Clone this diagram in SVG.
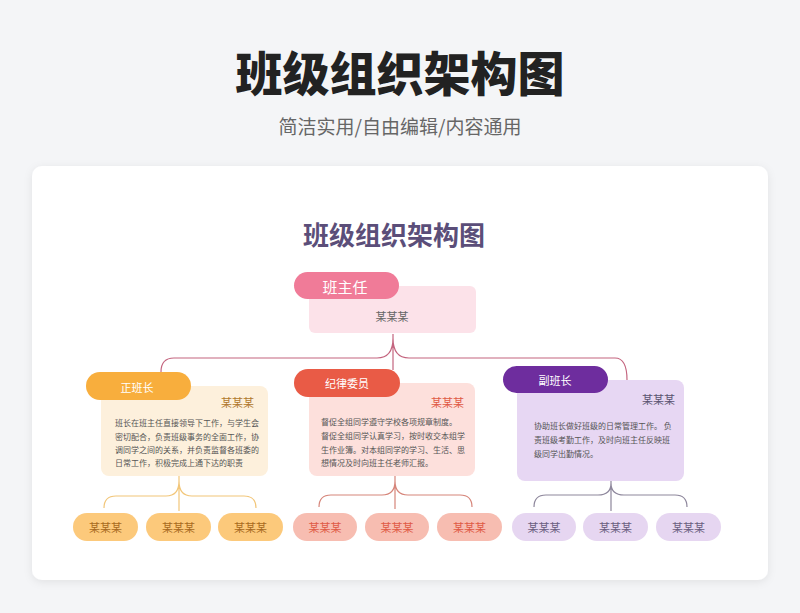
<svg xmlns="http://www.w3.org/2000/svg" width="800" height="613" viewBox="0 0 800 613">
<defs>
<filter id="sh" x="-10%" y="-10%" width="120%" height="120%">
<feDropShadow dx="0" dy="2" stdDeviation="4" flood-color="#000" flood-opacity="0.08"/>
</filter>
<style>
text{font-family:"Noto Sans CJK SC","Noto Sans",sans-serif;dominant-baseline:central}
.pill{font-size:11px;fill:#fff;text-anchor:middle}
.name{font-size:11px;text-anchor:end}
.body{font-size:8px;fill:#555}
.sub{font-size:11px;text-anchor:middle}
.ln{fill:none;stroke-width:1.2}
</style>
</defs>
<rect width="800" height="613" fill="#f4f5f7"/>
<text x="400" y="70" font-size="47" font-weight="900" fill="#222" text-anchor="middle">班级组织架构图</text>
<text x="400" y="125" font-size="19" fill="#666" text-anchor="middle">简洁实用/自由编辑/内容通用</text>
<rect x="32" y="166" width="736" height="414" rx="10" fill="#fff" filter="url(#sh)"/>
<text x="394" y="233" font-size="26" font-weight="700" fill="#5b4e79" text-anchor="middle">班级组织架构图</text>

<g id="connectors">
<path class="ln" stroke="#c4657f" d="M393,334 V370 M393,338 Q393,358 377,358 H174 Q161,358 161,372 M393,338 Q393,358 409,358 H615 Q627,358 627,380"/>
<path class="ln" stroke="#f2c679" d="M179,476 V511 M179,481 Q179,496 166,496 H116 Q104,496 104,508 M179,481 Q179,496 192,496 H244 Q256,496 256,508"/>
<path class="ln" stroke="#d6857a" d="M395,476 V509 M395,481 Q395,495 382,495 H331 Q319,495 319,507 M395,481 Q395,495 408,495 H460 Q472,495 472,507"/>
<path class="ln" stroke="#8e879c" d="M611,481 V511 M611,483 Q611,495 598,495 H546 Q534,495 534,507 M611,483 Q611,495 624,495 H675 Q687,495 687,507"/>
</g>

<g id="head">
<rect x="309" y="286" width="167" height="47" rx="6" fill="#fce2e9"/>
<rect x="294" y="272" width="105" height="27" rx="13.5" fill="#f07b98"/>
<text x="345" y="286" font-size="15" fill="#fff" text-anchor="middle">班主任</text>
<text x="392" y="316" font-size="11" fill="#666" text-anchor="middle">某某某</text>
</g>

<g id="monitor">
<rect x="101" y="386" width="167" height="90" rx="8" fill="#fdf0dc"/>
<rect x="86" y="372" width="105" height="28" rx="14" fill="#f8ae3d"/>
<text class="pill" x="137" y="387">正班长</text>
<text class="name" x="254" y="402" fill="#b0782c">某某某</text>
<text class="body" x="115" y="422">班长在班主任直接领导下工作，与学生会</text>
<text class="body" x="115" y="436">密切配合，负责班级事务的全面工作，协</text>
<text class="body" x="115" y="449">调同学之间的关系，并负责监督各班委的</text>
<text class="body" x="115" y="462">日常工作，积极完成上通下达的职责</text>
</g>

<g id="discipline">
<rect x="309" y="383" width="166" height="93" rx="8" fill="#fde0dc"/>
<rect x="294" y="369" width="106" height="28" rx="14" fill="#e95b46"/>
<text class="pill" x="347" y="383">纪律委员</text>
<text class="name" x="464" y="402" fill="#e05a45">某某某</text>
<text class="body" x="321" y="421">督促全组同学遵守学校各项规章制度。</text>
<text class="body" x="321" y="435">督促全组同学认真学习，按时收交本组学</text>
<text class="body" x="321" y="449">生作业簿。对本组同学的学习、生活、思</text>
<text class="body" x="321" y="462">想情况及时向班主任老师汇报。</text>
</g>

<g id="vice">
<rect x="517" y="380" width="167" height="101" rx="8" fill="#e7d7f3"/>
<rect x="503" y="366" width="105" height="27" rx="13.5" fill="#6e2d9e"/>
<text class="pill" x="555" y="380">副班长</text>
<text class="name" x="675" y="399" fill="#5a5470">某某某</text>
<text class="body" x="534" y="425">协助班长做好班级的日常管理工作。 负</text>
<text class="body" x="534" y="439">责班级考勤工作，及时向班主任反映班</text>
<text class="body" x="534" y="453">级同学出勤情况。</text>
</g>

<g id="o1"><rect x="73" y="513" width="65" height="28" rx="14" fill="#fcc97b"/><text class="sub" x="105.5" y="527" fill="#a86a20">某某某</text></g>
<g id="o2"><rect x="146" y="513" width="65" height="28" rx="14" fill="#fcc97b"/><text class="sub" x="178.5" y="527" fill="#a86a20">某某某</text></g>
<g id="o3"><rect x="218" y="513" width="65" height="28" rx="14" fill="#fcc97b"/><text class="sub" x="250.5" y="527" fill="#a86a20">某某某</text></g>
<g id="r1"><rect x="293" y="513" width="64" height="28" rx="14" fill="#f7bdb1"/><text class="sub" x="325" y="527" fill="#e05a45">某某某</text></g>
<g id="r2"><rect x="365" y="513" width="64" height="28" rx="14" fill="#f7bdb1"/><text class="sub" x="397" y="527" fill="#e05a45">某某某</text></g>
<g id="r3"><rect x="437" y="513" width="65" height="28" rx="14" fill="#f7bdb1"/><text class="sub" x="469.5" y="527" fill="#e05a45">某某某</text></g>
<g id="p1"><rect x="512" y="513" width="64" height="28" rx="14" fill="#e6d6f1"/><text class="sub" x="544" y="527" fill="#6a5e80">某某某</text></g>
<g id="p2"><rect x="583" y="513" width="65" height="28" rx="14" fill="#e6d6f1"/><text class="sub" x="615.5" y="527" fill="#6a5e80">某某某</text></g>
<g id="p3"><rect x="656" y="513" width="65" height="28" rx="14" fill="#e6d6f1"/><text class="sub" x="688.5" y="527" fill="#6a5e80">某某某</text></g>
</svg>
